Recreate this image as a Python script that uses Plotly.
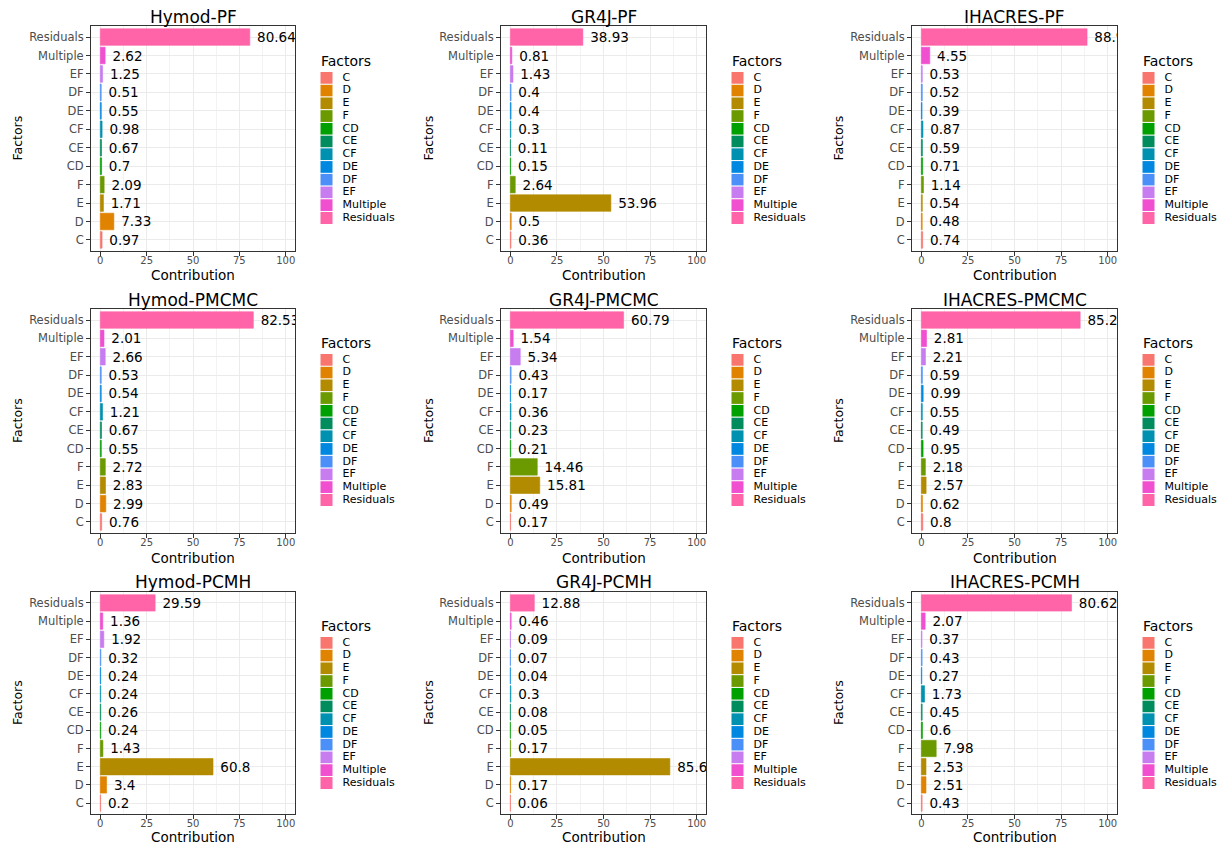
import plotly.graph_objects as go

# Factor levels (bottom to top in each panel) and their fill colours
factors = ["C", "D", "E", "F", "CD", "CE", "CF", "DE", "DF", "EF", "Multiple", "Residuals"]
factor_colors = ["#F8766D", "#E08300", "#B38B00", "#6B9A00", "#00A000", "#008C5C",
                 "#0090B0", "#0088E0", "#4A90F8", "#C77CF0", "#F050D0", "#FF63A8"]

# Contribution (%) of each factor, ordered as in `factors`
hymod_pf = [0.97, 7.33, 1.71, 2.09, 0.7, 0.67, 0.98, 0.55, 0.51, 1.25, 2.62, 80.64]
gr4j_pf = [0.36, 0.5, 53.96, 2.64, 0.15, 0.11, 0.3, 0.4, 0.4, 1.43, 0.81, 38.93]
ihacres_pf = [0.74, 0.48, 0.54, 1.14, 0.71, 0.59, 0.87, 0.39, 0.52, 0.53, 4.55, 88.94]
hymod_pmcmc = [0.76, 2.99, 2.83, 2.72, 0.55, 0.67, 1.21, 0.54, 0.53, 2.66, 2.01, 82.53]
gr4j_pmcmc = [0.17, 0.49, 15.81, 14.46, 0.21, 0.23, 0.36, 0.17, 0.43, 5.34, 1.54, 60.79]
ihacres_pmcmc = [0.8, 0.62, 2.57, 2.18, 0.95, 0.49, 0.55, 0.99, 0.59, 2.21, 2.81, 85.24]
hymod_pcmh = [0.2, 3.4, 60.8, 1.43, 0.24, 0.26, 0.24, 0.24, 0.32, 1.92, 1.36, 29.59]
gr4j_pcmh = [0.06, 0.17, 85.63, 0.17, 0.05, 0.08, 0.3, 0.04, 0.07, 0.09, 0.46, 12.88]
ihacres_pcmh = [0.43, 2.51, 2.53, 7.98, 0.6, 0.45, 1.73, 0.27, 0.43, 0.37, 2.07, 80.62]

panel_titles = ["Hymod-PF", "GR4J-PF", "IHACRES-PF",
                "Hymod-PMCMC", "GR4J-PMCMC", "IHACRES-PMCMC",
                "Hymod-PCMH", "GR4J-PCMH", "IHACRES-PCMH"]
panel_values = [hymod_pf, gr4j_pf, ihacres_pf,
                hymod_pmcmc, gr4j_pmcmc, ihacres_pmcmc,
                hymod_pcmh, gr4j_pcmh, ihacres_pcmh]

W, H = 1224, 845
FONT = "DejaVu Sans"

# Pixel boxes of the panel areas
col_px = [(91, 295), (501, 706), (912, 1117)]
row_px = [(26, 251), (309, 533), (592, 814)]
title_y_px = [17, 300, 582]
xtitle_y_px = [275, 558, 837]
ytitle_x_px = [17, 428, 838]
# Legend geometry per column / row
legend_key_px = [326.5, 737.5, 1148.5]
legend_title_x_px = [319, 730, 1141]
legend_rows_px = [(78, 218), (360, 500), (643, 783)]
legend_title_y_px = [61, 343, 626]
KEY_AREA = 70  # px of legend area to the right of the key centre


def fx(px):
    return px / W


def fy(px):
    return 1 - px / H


def label(text, x, y, size, xanchor="center", angle=0):
    return dict(text=text, x=fx(x), y=fy(y), xref="paper", yref="paper",
                xanchor=xanchor, yanchor="middle", showarrow=False, textangle=angle,
                font=dict(family=FONT, size=size, color="black"))


fig = go.Figure()
layout = {}
annotations = []

for i, (title, vals) in enumerate(zip(panel_titles, panel_values)):
    r, c = divmod(i, 3)
    n = 2 * i + 1          # bar panel axes
    m = 2 * i + 2          # legend axes
    xn = "x" if n == 1 else f"x{n}"
    yn = "y" if n == 1 else f"y{n}"
    xm, ym = f"x{m}", f"y{m}"

    labels = [f"\u00a0{v:g}" for v in vals]
    fig.add_trace(go.Bar(
        x=vals, y=factors, orientation="h", width=0.9,
        marker=dict(color=factor_colors, line=dict(color=factor_colors, width=0.6)),
        text=labels, textposition="outside", constraintext="none", cliponaxis=True,
        textfont=dict(family=FONT, size=13.5, color="black"),
        hoverinfo="skip", showlegend=False, xaxis=xn, yaxis=yn,
    ))

    x0, x1 = col_px[c]
    y0, y1 = row_px[r]
    layout["xaxis" if n == 1 else f"xaxis{n}"] = dict(
        domain=[fx(x0), fx(x1)], anchor=yn, range=[-5, 105],
        tickmode="linear", tick0=0, dtick=25,
        showgrid=True, gridcolor="#EBEBEB", gridwidth=1, zeroline=False,
        minor=dict(tick0=0, dtick=12.5, showgrid=True, gridcolor="#F3F3F3", gridwidth=0.6),
        showline=True, mirror=True, linecolor="#333333", linewidth=1,
        ticks="outside", ticklen=4, tickcolor="#333333", tickwidth=1,
        ticklabelstandoff=-4,
        tickfont=dict(family=FONT, size=10, color="#4D4D4D"),
    )
    layout["yaxis" if n == 1 else f"yaxis{n}"] = dict(
        domain=[fy(y1), fy(y0)], anchor=xn, type="category",
        categoryorder="array", categoryarray=factors, range=[-0.6, 11.6],
        showgrid=True, gridcolor="#EBEBEB", gridwidth=1,
        showline=True, mirror=True, linecolor="#333333", linewidth=1,
        ticks="outside", ticklen=4, tickcolor="#333333", tickwidth=1,
        tickfont=dict(family=FONT, size=11.5, color="#4D4D4D"),
    )

    # Panel title and axis titles
    annotations.append(label(title, (x0 + x1) / 2, title_y_px[r], 17))
    annotations.append(label("Contribution", (x0 + x1) / 2, xtitle_y_px[r], 13.5))
    annotations.append(label("Factors", ytitle_x_px[c], (y0 + y1) / 2, 12.5, angle=-90))

    # Factor key beside each panel
    kx = legend_key_px[c]
    ky0, ky1 = legend_rows_px[r]
    half = (ky1 - ky0) / 11 / 2
    layout[f"xaxis{m}"] = dict(domain=[fx(kx - 10), fx(kx + KEY_AREA)], anchor=ym,
                               range=[0, 10 + KEY_AREA], visible=False, fixedrange=True)
    layout[f"yaxis{m}"] = dict(domain=[fy(ky1 + half), fy(ky0 - half)], anchor=xm,
                               type="category", categoryorder="array",
                               categoryarray=factors, range=[11.5, -0.5],
                               visible=False, fixedrange=True)
    fig.add_trace(go.Scatter(
        x=[10] * len(factors), y=factors, mode="markers+text",
        marker=dict(symbol="square", size=13, color=factor_colors,
                    line=dict(color="white", width=1)),
        text=["\u00a0\u00a0" + f for f in factors], textposition="middle right",
        textfont=dict(family=FONT, size=11, color="black"),
        cliponaxis=False, hoverinfo="skip", showlegend=False, xaxis=xm, yaxis=ym,
    ))
    annotations.append(label("Factors", legend_title_x_px[c], legend_title_y_px[r], 14,
                             xanchor="left"))

fig.update_layout(
    width=W, height=H, margin=dict(l=0, r=0, t=0, b=0),
    paper_bgcolor="white", plot_bgcolor="white",
    bargap=0.1, annotations=annotations, showlegend=False,
    **layout,
)

fig.write_html("out.html")
